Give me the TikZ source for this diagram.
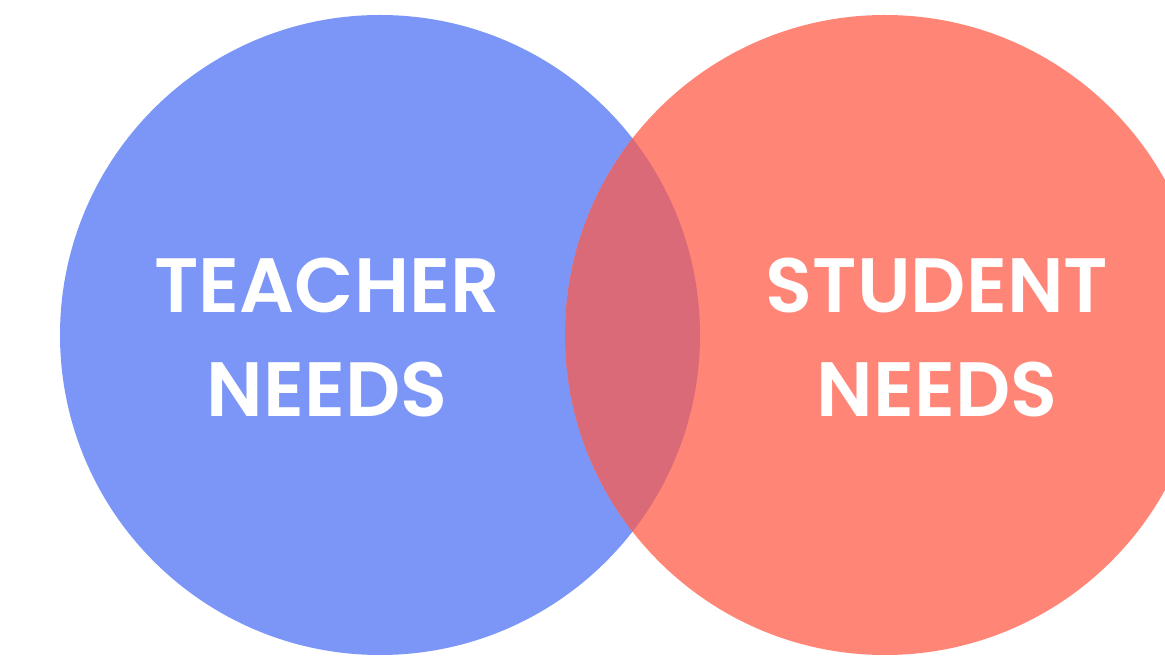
\documentclass[tikz,border=0pt]{standalone}
\usepackage{fontspec}
\setmainfont{Poppins}[BoldFont={Poppins SemiBold}]
\definecolor{bluec}{HTML}{7B96F7}
\definecolor{redc}{HTML}{FF8577}
\definecolor{overc}{HTML}{DB6A78}
\begin{document}
\begin{tikzpicture}[x=1pt,y=1pt,
  lbl/.style={text=white,font=\fontsize{77}{104}\selectfont\bfseries,align=center,inner sep=0pt}]
\useasboundingbox (0,0) rectangle (1165,666);
\begin{scope}
\clip (0,0) rectangle (1165,666);
\fill[bluec] (380,331) circle (320);
\fill[redc] (885,331) circle (320);
\begin{scope}
\clip (380,331) circle (320);
\fill[overc] (885,331) circle (320);
\end{scope}
\end{scope}
\node[lbl] (t) at (327,328) {TEACHER\\NEEDS};
\node[lbl] (s) at (937,328) {STUDENT\\NEEDS};
\end{tikzpicture}
\end{document}
